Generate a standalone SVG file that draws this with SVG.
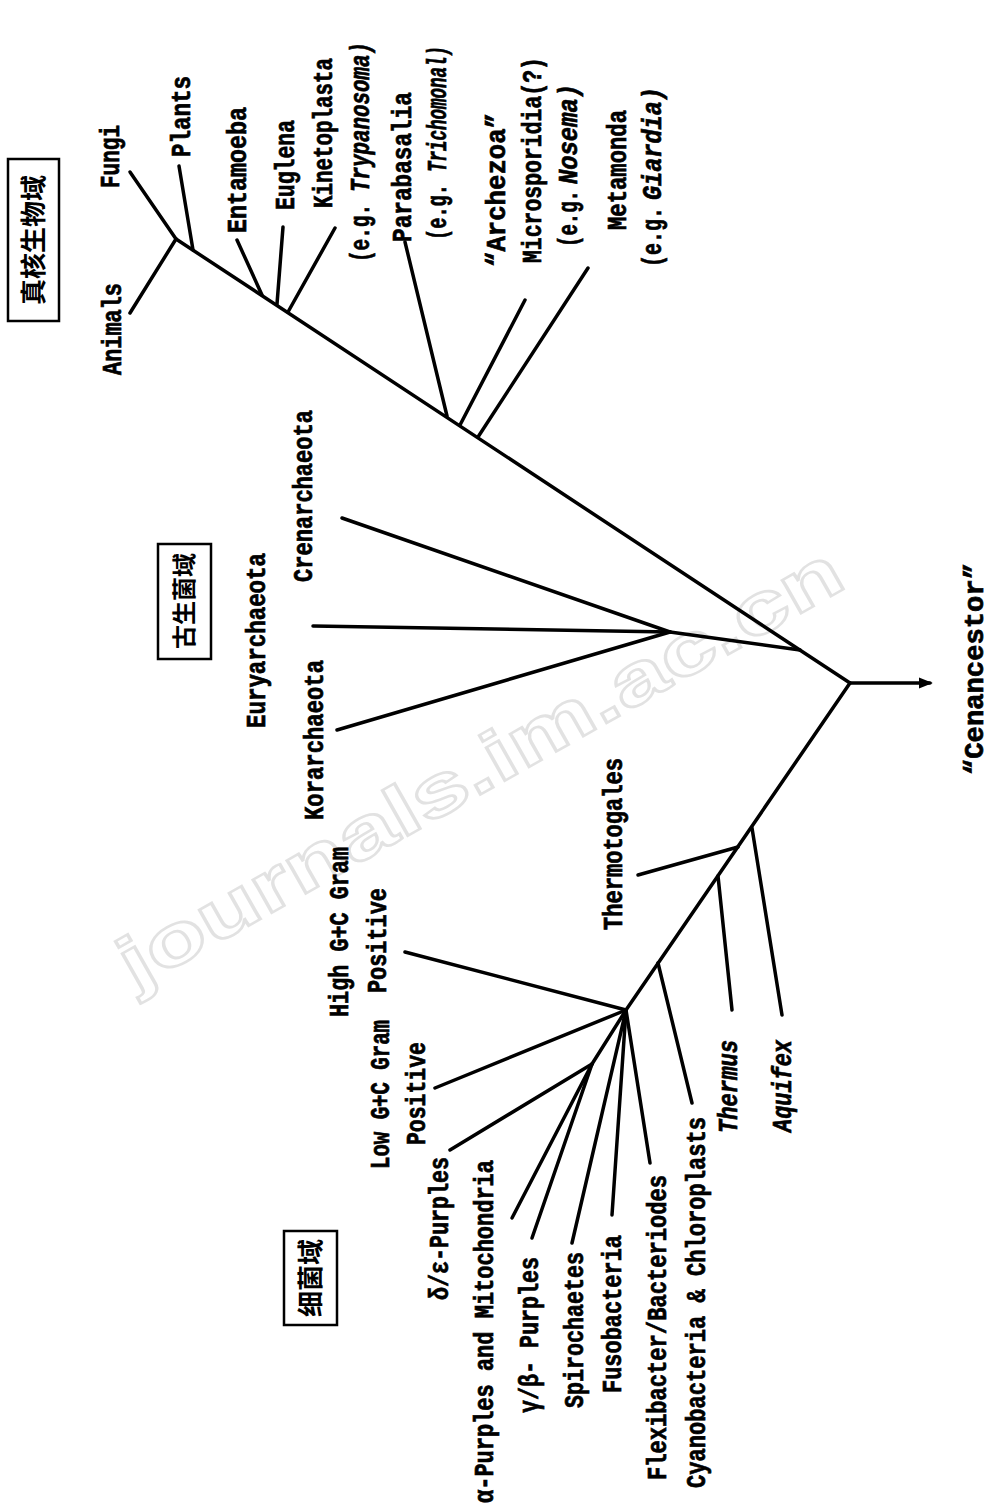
<svg xmlns="http://www.w3.org/2000/svg" width="989" height="1506" viewBox="0 0 989 1506">
<style>
.lbl{font-family:"Liberation Mono","DejaVu Sans Mono",monospace;font-weight:bold;font-size:27px;fill:#000;stroke:#000;stroke-width:0.7}
.it{font-style:italic}
.cjk{font-family:"Noto Sans CJK SC","Noto Sans CJK TC",sans-serif;font-weight:bold;fill:#000}
.box{fill:none;stroke:#000;stroke-width:2.5}
.br{stroke:#000;stroke-width:3.5;stroke-linecap:round;fill:none}
.wm{font-family:"Liberation Sans",sans-serif;font-weight:bold;font-size:72px;fill:none;stroke:#e2e2e2;stroke-width:2.5}
</style>
<defs>
<marker id="arr" viewBox="0 0 10 10" refX="8" refY="5" markerWidth="4" markerHeight="4" orient="auto">
<path d="M0,1 L10,5 L0,9 z" fill="#000"/>
</marker>
</defs>
<rect width="989" height="1506" fill="#fff"/>
<text class="wm" transform="translate(135,990) rotate(-29.5)" textLength="820" lengthAdjust="spacingAndGlyphs">journals.im.ac.cn</text>

<g id="connectors">
<line class="br" x1="176" y1="239" x2="850" y2="683"/>
<line class="br" x1="130" y1="172" x2="176" y2="239"/>
<line class="br" x1="130" y1="313" x2="176" y2="239"/>
<line class="br" x1="179" y1="166" x2="193" y2="250"/>
<line class="br" x1="237" y1="240" x2="262" y2="295"/>
<line class="br" x1="283" y1="227" x2="277" y2="304"/>
<line class="br" x1="335" y1="228" x2="288" y2="312"/>
<line class="br" x1="405" y1="242" x2="447" y2="416"/>
<line class="br" x1="525" y1="300" x2="460" y2="425"/>
<line class="br" x1="588" y1="268" x2="478" y2="437"/>
<line class="br" x1="342" y1="518" x2="670" y2="632"/>
<line class="br" x1="313" y1="626" x2="670" y2="632"/>
<line class="br" x1="337" y1="730" x2="670" y2="632"/>
<line class="br" x1="670" y1="632" x2="800" y2="650"/>
<line class="br" x1="850" y1="683" x2="930" y2="683" marker-end="url(#arr)"/>
<line class="br" x1="850" y1="683" x2="626" y2="1010"/>
<line class="br" x1="752" y1="828" x2="782" y2="1015"/>
<line class="br" x1="638" y1="875" x2="738" y2="847"/>
<line class="br" x1="718" y1="876" x2="732" y2="1010"/>
<line class="br" x1="658" y1="963" x2="692" y2="1103"/>
<line class="br" x1="405" y1="952" x2="626" y2="1010"/>
<line class="br" x1="435" y1="1088" x2="626" y2="1010"/>
<line class="br" x1="626" y1="1010" x2="650" y2="1163"/>
<line class="br" x1="626" y1="1010" x2="612" y2="1215"/>
<line class="br" x1="626" y1="1010" x2="572" y2="1243"/>
<line class="br" x1="626" y1="1010" x2="592" y2="1064"/>
<line class="br" x1="592" y1="1064" x2="450" y2="1150"/>
<line class="br" x1="592" y1="1064" x2="512" y2="1218"/>
<line class="br" x1="592" y1="1064" x2="532" y2="1238"/>
</g>

<g id="domain-eukarya">
<rect class="box" x="8" y="159" width="51" height="162"/>
<text class="cjk" font-size="26" text-anchor="middle" transform="translate(43,240) rotate(-90)">真核生物域</text>
</g>
<g id="domain-archaea">
<rect class="box" x="158" y="544" width="53" height="115"/>
<text class="cjk" font-size="24" text-anchor="middle" transform="translate(193,601) rotate(-90)">古生菌域</text>
</g>
<g id="domain-bacteria">
<rect class="box" x="284" y="1231" width="53" height="94"/>
<text class="cjk" font-size="26" text-anchor="middle" transform="translate(320,1278) rotate(-90)">细菌域</text>
</g>

<g id="animals"><text class="lbl" transform="translate(121,375) rotate(-90)" textLength="92" lengthAdjust="spacingAndGlyphs">Animals</text></g>
<g id="fungi"><text class="lbl" transform="translate(119,188) rotate(-90)" textLength="63" lengthAdjust="spacingAndGlyphs">Fungi</text></g>
<g id="plants"><text class="lbl" transform="translate(190,157) rotate(-90)" textLength="81" lengthAdjust="spacingAndGlyphs">Plants</text></g>
<g id="entamoeba"><text class="lbl" transform="translate(246,233) rotate(-90)" textLength="126" lengthAdjust="spacingAndGlyphs">Entamoeba</text></g>
<g id="euglena"><text class="lbl" transform="translate(294,210) rotate(-90)" textLength="90" lengthAdjust="spacingAndGlyphs">Euglena</text></g>
<g id="kinetoplasta"><text class="lbl" transform="translate(332,208) rotate(-90)" textLength="150" lengthAdjust="spacingAndGlyphs">Kinetoplasta</text>
<text class="lbl" transform="translate(369,262) rotate(-90)" textLength="58" lengthAdjust="spacingAndGlyphs">(e.g.</text>
<text class="lbl it" font-size="25" transform="translate(369,192) rotate(-90)" textLength="150" lengthAdjust="spacingAndGlyphs">Trypanosoma)</text></g>
<g id="parabasalia"><text class="lbl" transform="translate(411,242) rotate(-90)" textLength="150" lengthAdjust="spacingAndGlyphs">Parabasalia</text>
<text class="lbl" transform="translate(446,240) rotate(-90)" textLength="56" lengthAdjust="spacingAndGlyphs">(e.g.</text>
<text class="lbl it" font-size="24" transform="translate(446,172) rotate(-90)" textLength="126" lengthAdjust="spacingAndGlyphs">Trichomonal)</text></g>
<g id="archezoa"><text class="lbl" transform="translate(505,267) rotate(-90)" textLength="154" lengthAdjust="spacingAndGlyphs">“Archezoa”</text>
<text class="lbl" font-size="25" transform="translate(541,263) rotate(-90)" textLength="206" lengthAdjust="spacingAndGlyphs">Microsporidia(?)</text>
<text class="lbl" transform="translate(577,247) rotate(-90)" textLength="57" lengthAdjust="spacingAndGlyphs">(e.g.</text>
<text class="lbl it" transform="translate(577,184) rotate(-90)" textLength="100" lengthAdjust="spacingAndGlyphs">Nosema)</text></g>
<g id="metamonda"><text class="lbl" transform="translate(626,230) rotate(-90)" textLength="120" lengthAdjust="spacingAndGlyphs">Metamonda</text>
<text class="lbl" transform="translate(661,267) rotate(-90)" textLength="60" lengthAdjust="spacingAndGlyphs">(e.g.</text>
<text class="lbl it" transform="translate(661,200) rotate(-90)" textLength="113" lengthAdjust="spacingAndGlyphs">Giardia)</text></g>

<g id="crenarchaeota"><text class="lbl" transform="translate(312,582) rotate(-90)" textLength="172" lengthAdjust="spacingAndGlyphs">Crenarchaeota</text></g>
<g id="euryarchaeota"><text class="lbl" transform="translate(265,728) rotate(-90)" textLength="175" lengthAdjust="spacingAndGlyphs">Euryarchaeota</text></g>
<g id="korarchaeota"><text class="lbl" transform="translate(323,820) rotate(-90)" textLength="160" lengthAdjust="spacingAndGlyphs">Korarchaeota</text></g>

<g id="cenancestor"><text class="lbl" font-size="34" transform="translate(983,775) rotate(-90)" textLength="212" lengthAdjust="spacingAndGlyphs">“Cenancestor”</text></g>

<g id="thermotogales"><text class="lbl" transform="translate(622,930) rotate(-90)" textLength="172" lengthAdjust="spacingAndGlyphs">Thermotogales</text></g>
<g id="high-gc"><text class="lbl" transform="translate(348,1017) rotate(-90)" textLength="170" lengthAdjust="spacingAndGlyphs">High G+C Gram</text>
<text class="lbl" transform="translate(386,993) rotate(-90)" textLength="105" lengthAdjust="spacingAndGlyphs">Positive</text></g>
<g id="low-gc"><text class="lbl" transform="translate(389,1169) rotate(-90)" textLength="149" lengthAdjust="spacingAndGlyphs">Low G+C Gram</text>
<text class="lbl" transform="translate(425,1145) rotate(-90)" textLength="103" lengthAdjust="spacingAndGlyphs">Positive</text></g>
<g id="thermus"><text class="lbl it" transform="translate(737,1133) rotate(-90)" textLength="93" lengthAdjust="spacingAndGlyphs">Thermus</text></g>
<g id="aquifex"><text class="lbl it" transform="translate(791,1132) rotate(-90)" textLength="92" lengthAdjust="spacingAndGlyphs">Aquifex</text></g>
<g id="delta-purples"><text class="lbl" transform="translate(448,1300) rotate(-90)" textLength="143" lengthAdjust="spacingAndGlyphs">δ/ε-Purples</text></g>
<g id="alpha-purples"><text class="lbl" transform="translate(493,1503) rotate(-90)" textLength="343" lengthAdjust="spacingAndGlyphs">α-Purples and Mitochondria</text></g>
<g id="gamma-purples"><text class="lbl" transform="translate(538,1413) rotate(-90)" textLength="156" lengthAdjust="spacingAndGlyphs">γ/β- Purples</text></g>
<g id="spirochaetes"><text class="lbl" transform="translate(583,1408) rotate(-90)" textLength="156" lengthAdjust="spacingAndGlyphs">Spirochaetes</text></g>
<g id="fusobacteria"><text class="lbl" transform="translate(621,1393) rotate(-90)" textLength="158" lengthAdjust="spacingAndGlyphs">Fusobacteria</text></g>
<g id="flexibacter"><text class="lbl" transform="translate(666,1480) rotate(-90)" textLength="305" lengthAdjust="spacingAndGlyphs">Flexibacter/Bacteriodes</text></g>
<g id="cyanobacteria"><text class="lbl" transform="translate(705,1488) rotate(-90)" textLength="371" lengthAdjust="spacingAndGlyphs">Cyanobacteria &amp; Chloroplasts</text></g>
</svg>
